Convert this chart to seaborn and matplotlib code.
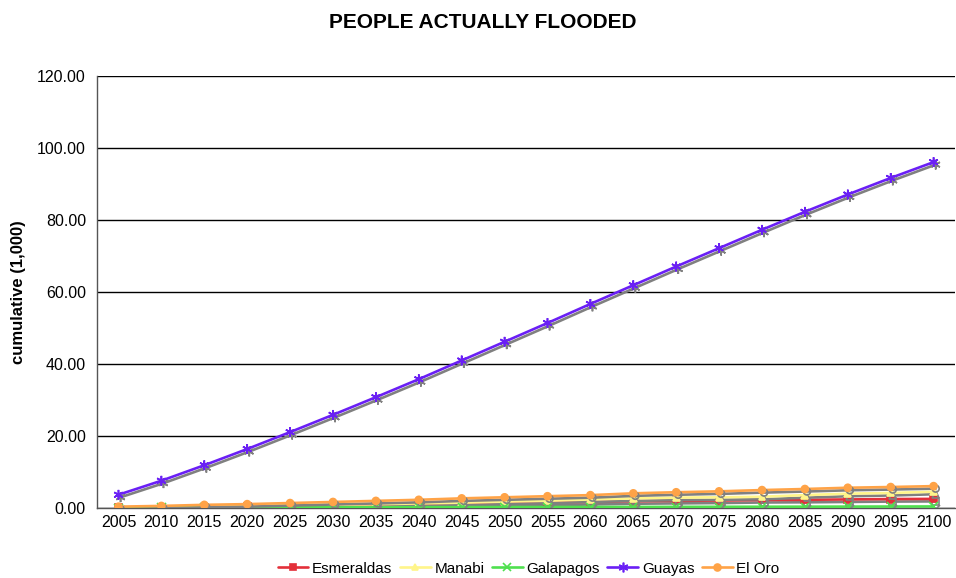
import numpy as np
import pandas as pd
import matplotlib
matplotlib.use("Agg")
import matplotlib.pyplot as plt
import matplotlib.patheffects as pe
from matplotlib.ticker import FixedLocator
import seaborn as sns

years = [str(y) for y in range(2005, 2101, 5)]

esmeraldas = [0.05, 0.1, 0.2, 0.3, 0.45, 0.6, 0.7, 0.85, 1.0, 1.2,
              1.4, 1.6, 1.8, 1.9, 2.0, 2.15, 2.2, 2.3, 2.4, 2.45]
manabi = [0.1, 0.2, 0.35, 0.5, 0.65, 0.8, 0.95, 1.2, 1.4, 1.7,
          1.95, 2.3, 2.6, 2.8, 2.9, 3.05, 3.5, 3.9, 4.1, 4.45]
galapagos = [0.0, 0.02, 0.04, 0.06, 0.08, 0.1, 0.12, 0.14, 0.16, 0.18,
             0.2, 0.21, 0.22, 0.24, 0.25, 0.27, 0.29, 0.31, 0.33, 0.35]
guayas = [3.6, 7.5, 11.8, 16.3, 21.0, 25.8, 30.7, 35.7, 40.9, 46.1,
          51.3, 56.6, 61.8, 67.0, 72.1, 77.2, 82.2, 87.0, 91.6, 96.0]
el_oro = [0.3, 0.5, 0.8, 1.0, 1.3, 1.6, 1.9, 2.2, 2.6, 2.9,
          3.2, 3.5, 4.0, 4.3, 4.55, 4.9, 5.2, 5.55, 5.75, 6.0]

names = ["Esmeraldas", "Manabi", "Galapagos", "Guayas", "El Oro"]
series = [esmeraldas, manabi, galapagos, guayas, el_oro]
colors = ["#E3303A", "#FFF58A", "#4FE04F", "#6A1FF5", "#FFA347"]
markers = ["s", "^", "x", (6, 2, 0), "o"]
msizes = [5, 5, 6, 7, 5]

sns.set_style("white")
plt.rcParams["font.family"] = ["Liberation Sans", "DejaVu Sans"]
plt.rcParams["text.color"] = "black"
plt.rcParams["xtick.color"] = "black"
plt.rcParams["ytick.color"] = "black"
plt.rcParams["axes.labelcolor"] = "black"

fig = plt.figure(figsize=(9.56, 5.78), dpi=100)
ax = fig.add_axes([0.1015, 0.1216, 0.8975, 0.7474])

# Excel-style drop shadow under each series
shadow = [pe.SimpleLineShadow(offset=(1.5, -1.8), shadow_color="#808080", alpha=1.0),
          pe.Normal()]

for name, vals, col, mk, ms in zip(names, series, colors, markers, msizes):
    df = pd.DataFrame({"year": years, "value": vals})
    sns.lineplot(data=df, x="year", y="value", ax=ax, color=col, marker=mk,
                 markersize=ms, markeredgecolor=col, markeredgewidth=1.2,
                 linewidth=1.9, label=name, path_effects=shadow, zorder=3)

ax.set_xlim(-0.5, len(years) - 0.5)
ax.set_ylim(0, 120)
ax.set_yticks(np.arange(0, 121, 20))
ax.set_yticklabels([f"{v:.2f}" for v in np.arange(0, 121, 20)], fontsize=11.5)
ax.tick_params(axis="x", which="major", length=0, labelsize=11.5, pad=5)
ax.xaxis.set_minor_locator(FixedLocator(np.arange(-0.5, len(years), 1.0)))
ax.tick_params(axis="x", which="minor", length=5, width=1, color="black", direction="out")
ax.tick_params(axis="y", length=5, width=1, color="black", direction="out", pad=3)
ax.grid(axis="y", color="black", linewidth=1.0)
ax.set_axisbelow(True)

for s in ["top", "right"]:
    ax.spines[s].set_visible(False)
for s in ["left", "bottom"]:
    ax.spines[s].set_color("#555555")
    ax.spines[s].set_linewidth(1.0)

ax.set_xlabel("")
ax.set_ylabel("cumulative (1,000)", fontsize=12, fontweight="bold", labelpad=8)
fig.suptitle("PEOPLE ACTUALLY FLOODED", fontsize=15, fontweight="bold", x=0.505, y=0.978)

ax.get_legend().remove()
handles, labels = ax.get_legend_handles_labels()
leg = fig.legend(handles, labels, loc="lower center", ncol=5, frameon=False, fontsize=11,
                 bbox_to_anchor=(0.553, -0.02), handlelength=2.0, columnspacing=0.5,
                 handletextpad=0.25)
for h in leg.legend_handles:
    h.set_path_effects([])

fig.savefig("out.png", dpi=100)
